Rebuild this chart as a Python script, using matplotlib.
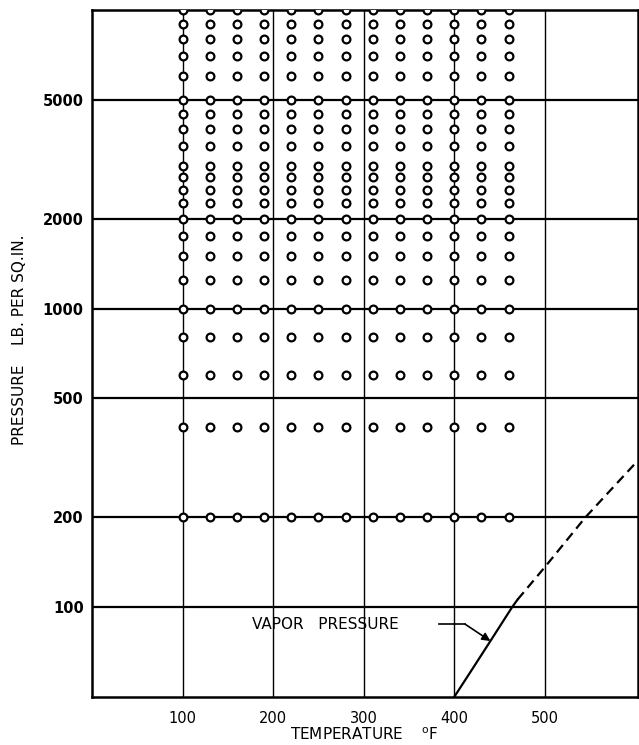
import numpy as np
import matplotlib
matplotlib.use('Agg')
import matplotlib.pyplot as plt
from matplotlib.ticker import FixedLocator, FixedFormatter, NullLocator

# test points: temperature (deg F) x pressure (psi)
tempPoints = [100, 130, 160, 190, 220, 250, 280, 310, 340, 370, 400, 430, 460]
presPoints = [200, 400, 600, 800, 1000, 1250, 1500, 1750, 2000, 2250, 2500,
              2750, 3000, 3500, 4000, 4500, 5000, 6000, 7000, 8000, 9000, 10000]

# vapor pressure curve (solid = measured, dashed = extrapolated)
vpTempSolid = [400, 420, 440, 464, 470]
vpPresSolid = [50, 62, 77, 100, 106]
vpTempDash = [470, 500, 545, 603]
vpPresDash = [106, 136, 200, 310]

xTicks = [100, 200, 300, 400, 500]
xTickLabels = ['100', '200', '300', '400', '500']
yTicks = [100, 200, 500, 1000, 2000, 5000]
yTickLabels = ['100', '200', '500', '1000', '2000', '5000']

fig = plt.figure(figsize=(6.39, 7.45), dpi=100)
ax = fig.add_axes([92/639, 48/745, 546/639, 687/745])

ax.set_yscale('log')
ax.set_xlim(0, 603)
ax.set_ylim(50, 10000)

ax.xaxis.set_major_locator(FixedLocator(xTicks))
ax.xaxis.set_major_formatter(FixedFormatter(xTickLabels))
ax.yaxis.set_major_locator(FixedLocator(yTicks))
ax.yaxis.set_major_formatter(FixedFormatter(yTickLabels))
ax.yaxis.set_minor_locator(NullLocator())
ax.xaxis.set_minor_locator(NullLocator())

ax.xaxis.grid(True, color='black', lw=1.0)
ax.yaxis.grid(True, color='black', lw=1.6)
ax.set_axisbelow(True)

ax.tick_params(axis='x', length=0, pad=10, labelsize=10.5)
ax.tick_params(axis='y', length=0, pad=6, labelsize=10.5)
for lab in ax.get_yticklabels():
    lab.set_fontweight('bold')

for sp in ax.spines.values():
    sp.set_linewidth(1.8)

# grid of test points
TT, PP = np.meshgrid(tempPoints, presPoints)
ax.plot(TT.ravel(), PP.ravel(), 'o', ms=5.6, mew=1.6, mec='black', mfc='white',
        zorder=3)

# vapor pressure
ax.plot(vpTempSolid, vpPresSolid, color='black', lw=1.6, zorder=2)
ax.plot(vpTempDash, vpPresDash, color='black', lw=1.6,
        linestyle=(0, (4.3, 2.6)), zorder=2)

ax.text(177, 87.7, 'VAPOR   PRESSURE', fontsize=11, va='center', ha='left')
ax.plot([383, 412], [87.7, 87.7], color='black', lw=1.2)
ax.annotate('', xy=(440, 77), xytext=(412, 87.7),
            arrowprops=dict(arrowstyle='-|>', color='black', lw=1.2,
                            mutation_scale=12, shrinkA=0, shrinkB=0))

fig.text(20/639, 1 - 340/745, 'PRESSURE    LB. PER SQ.IN.', rotation=90,
         ha='center', va='center', fontsize=11)
fig.text(364/639, 1 - 735/745, r'TEMPERATURE    $^{\rm o}$F', ha='center',
         va='center', fontsize=11)

fig.savefig('out.png', dpi=100)
